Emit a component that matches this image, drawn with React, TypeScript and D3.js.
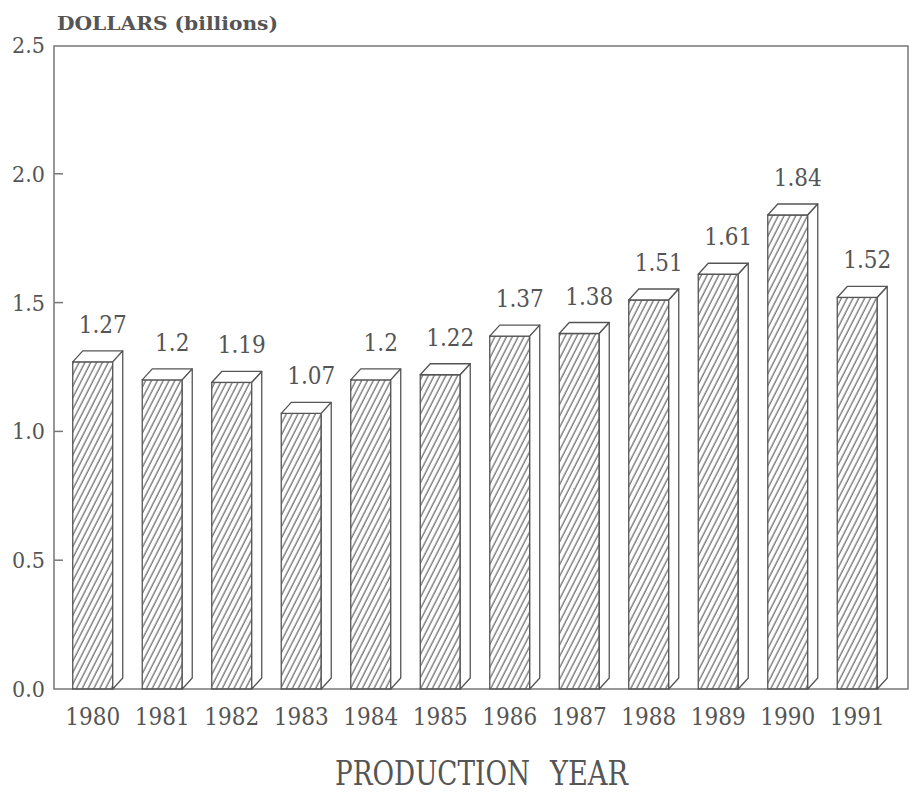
import React from "react";
import * as d3 from "d3";

const years = ["1980","1981","1982","1983","1984","1985","1986","1987","1988","1989","1990","1991"];
const values = [1.27, 1.2, 1.19, 1.07, 1.2, 1.22, 1.37, 1.38, 1.51, 1.61, 1.84, 1.52];
const valueLabels = ["1.27","1.2","1.19","1.07","1.2","1.22","1.37","1.38","1.51","1.61","1.84","1.52"];
const yTicks = [0, 0.5, 1.0, 1.5, 2.0, 2.5];

const W = 913, H = 792;
const frame = { left: 54, right: 908, top: 45, bottom: 689 };
const DX = 10, DY = 11;
const INK = "#555";
const SERIF = "'DejaVu Serif Condensed', 'DejaVu Serif', serif";

export default function App() {
  const y = d3.scaleLinear().domain([0, 2.5]).range([frame.bottom, frame.top]);
  const x = d3.scaleBand<string>().domain(years).range([48, 902]).paddingInner(0.4245).paddingOuter(0.356);
  const bw = x.bandwidth();

  return (
    <svg width={W} height={H} style={{ position: "absolute", left: 0, top: 0, background: "#fff" }}>
      <defs>
        <pattern id="hatch" width={5.2} height={10} patternUnits="userSpaceOnUse" patternTransform="rotate(27)">
          <line x1={1} y1={-1} x2={1} y2={11} stroke="#666" strokeWidth={1.2} />
        </pattern>
      </defs>
      <rect x={0} y={0} width={W} height={H} fill="#fff" />
      <rect x={frame.left} y={frame.top + 1} width={frame.right - frame.left} height={frame.bottom - frame.top - 1}
        fill="none" stroke="#777" strokeWidth={1.5} />
      {yTicks.map((t) => (
        <g key={t}>
          {t > 0 && t < 2.5 && (
            <line x1={frame.left} x2={frame.left + 9} y1={y(t)} y2={y(t)} stroke="#777" strokeWidth={1.5} />
          )}
          <text x={45} y={y(t) + 8} textAnchor="end" fontFamily={SERIF} fontStretch="condensed" fontSize={23} fill={INK}>
            {t.toFixed(1)}
          </text>
        </g>
      ))}
      {years.map((yr, i) => {
        const x0 = x(yr)!;
        const x1 = x0 + bw;
        const top = y(values[i]);
        const base = y(0);
        return (
          <g key={yr}>
            <rect x={x0} y={top} width={bw} height={base - top} fill="url(#hatch)" stroke={INK} strokeWidth={1.3} />
            <polygon
              points={`${x0},${top} ${x0 + DX},${top - DY} ${x1 + DX},${top - DY} ${x1},${top}`}
              fill="#fff" stroke={INK} strokeWidth={1.3} strokeLinejoin="round" />
            <polygon
              points={`${x1},${top} ${x1 + DX},${top - DY} ${x1 + DX},${base - DY} ${x1},${base}`}
              fill="#fff" stroke={INK} strokeWidth={1.3} strokeLinejoin="round" />
            <text x={x0 + bw / 2 + DX} y={top - DY - 18} textAnchor="middle" fontFamily={SERIF} fontStretch="condensed" fontSize={24} fill={INK}>
              {valueLabels[i]}
            </text>
            <text x={x0 + bw / 2} y={725} textAnchor="middle" fontFamily={SERIF} fontStretch="condensed" fontSize={24} fill={INK}>
              {yr}
            </text>
          </g>
        );
      })}
      <text x={57} y={30} fontFamily={SERIF} fontStretch="condensed" fontSize={19} fontWeight="bold" fill={INK}
        textLength={221} lengthAdjust="spacingAndGlyphs">DOLLARS (billions)</text>
      <text x={335} y={785} fontFamily={SERIF} fontStretch="condensed" fontSize={33} fill={INK}
        textLength={195} lengthAdjust="spacingAndGlyphs">PRODUCTION</text>
      <text x={550} y={785} fontFamily={SERIF} fontStretch="condensed" fontSize={33} fill={INK}
        textLength={78} lengthAdjust="spacingAndGlyphs">YEAR</text>
    </svg>
  );
}
